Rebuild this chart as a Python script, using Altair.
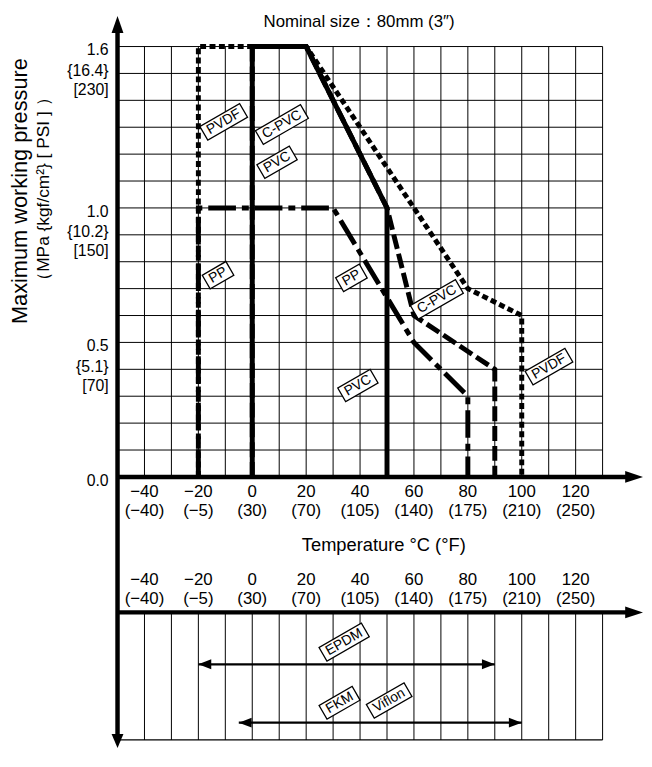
import altair as alt
import pandas as pd

# ---------------- data ----------------
# pressure-temperature curves: temperature (deg C) and pressure (MPa)
pvc_t = [0, 0, 20, 50, 50]
pvc_p = [0.0, 1.6, 1.6, 1.0, 0.0]
cpvc_t = [0, 0, 20, 50, 60, 90, 90]
cpvc_p = [0.0, 1.6, 1.6, 1.0, 0.6, 0.4, 0.0]
pp_t = [-20, -20, 30, 60, 80, 80]
pp_p = [0.0, 1.0, 1.0, 0.5, 0.3, 0.0]
pvdf_t = [-20, -20, 20, 80, 100, 100]
pvdf_p = [0.0, 1.6, 1.6, 0.7, 0.6, 0.0]

# seal material temperature ranges
seal_min = [-20, -5]
seal_max = [90, 100]
seal_row = [1, 2]

# axes
temp_ticks = [-40, -20, 0, 20, 40, 60, 80, 100, 120]
temp_c_labels = ["−40", "−20", "0", "20", "40", "60", "80", "100", "120"]
temp_f_labels = ["(−40)", "(−5)", "(30)", "(70)", "(105)", "(140)", "(175)", "(210)", "(250)"]
grid_t = [-40, -30, -20, -10, 0, 10, 20, 30, 40, 50, 60, 70, 80, 90, 100, 110, 120, 130]
grid_p = [0.1, 0.2, 0.3, 0.4, 0.5, 0.6, 0.7, 0.8, 0.9, 1.0, 1.1, 1.2, 1.3, 1.4, 1.5, 1.6]
p_ticks = [1.6, 1.0, 0.5, 0.0]
p_mpa_labels = ["1.6", "1.0", "0.5", "0.0"]
p_kgf_labels = ["{16.4}", "{10.2}", "{5.1}", ""]
p_psi_labels = ["[230]", "[150]", "[70]", ""]

# boxed curve labels
label_text = ["PVDF", "C-PVC", "PVC", "PP", "PP", "C-PVC", "PVC", "PVDF"]
label_t = [-10.6, 11.0, 9.2, -12.7, 36.8, 68.5, 39.2, 110.1]
label_p = [1.32, 1.31, 1.17, 0.75, 0.74, 0.66, 0.34, 0.41]
seal_label_text = ["EPDM", "FKM", "Viflon"]
seal_label_t = [34.1, 32.4, 50.8]
seal_label_row = [0.62, 1.66, 1.62]

title_text = "Nominal size：80mm (3″)"
x_title_text = "Temperature °C (°F)"
y_title_1 = "Maximum working pressure"
y_title_2 = "（MPa {kgf/cm²} [ PSI ] ）"

# ---------------- layout (page pixels) ----------------
PX_C = 2.725
PX_MPA = 272.0
X0 = 118.75
Y0 = 478.0
TOP = 12.0
BOTTOM = 752.0
T_MIN, T_GRID_MAX, T_MAX = -50, 130, 145
W = (T_MAX - T_MIN) * PX_C
H = BOTTOM - TOP
P_TOP = (Y0 - TOP) / PX_MPA
P_BOT = -(BOTTOM - Y0) / PX_MPA
P_GRID_MAX = 1.6

ROW_PX = 59.0
ROW1_Y = 667.5
R_TOP = 1 - (ROW1_Y - TOP) / ROW_PX
R_BOT = 1 + (BOTTOM - ROW1_Y) / ROW_PX
AXIS2_ROW = 1 - (ROW1_Y - 615) / ROW_PX
FRAME_ROW = 1 + (744 - ROW1_Y) / ROW_PX


def t_at(px):
    return T_MIN + (px - X0) / PX_C


def p_at(py):
    return (Y0 - py) / PX_MPA


FONT = "Liberation Sans"
GRID = "#000"

xs = alt.Scale(domain=[T_MIN, T_MAX], nice=False, zero=False)
ys = alt.Scale(domain=[P_BOT, P_TOP], nice=False, zero=False)
rs = alt.Scale(domain=[R_TOP, R_BOT], nice=False, zero=False, reverse=True)


def X(f):
    return alt.X(f, type="quantitative", scale=xs, axis=None)


def Y(f):
    return alt.Y(f, type="quantitative", scale=ys, axis=None)


def R(f):
    return alt.Y(f, type="quantitative", scale=rs, axis=None)


layers = []

# ---- grids ----
hg = pd.DataFrame({"p": grid_p})
hg["t0"] = T_MIN
hg["t1"] = T_GRID_MAX
layers.append(alt.Chart(hg).mark_rule(color=GRID, strokeWidth=1).encode(
    x=X("t0"), x2=alt.X2("t1"), y=Y("p")))
vg = pd.DataFrame({"t": grid_t})
vg["p0"] = 0.0
vg["p1"] = P_GRID_MAX
layers.append(alt.Chart(vg).mark_rule(color=GRID, strokeWidth=1).encode(
    x=X("t"), y=Y("p0"), y2=alt.Y2("p1")))
bg = pd.DataFrame({"t": grid_t})
bg["r0"] = AXIS2_ROW
bg["r1"] = FRAME_ROW
layers.append(alt.Chart(bg).mark_rule(color=GRID, strokeWidth=1).encode(
    x=X("t"), y=R("r0"), y2=alt.Y2("r1")))
fr = pd.DataFrame({"t0": [T_MIN], "t1": [T_GRID_MAX], "r": [FRAME_ROW]})
layers.append(alt.Chart(fr).mark_rule(color=GRID, strokeWidth=1.2).encode(
    x=X("t0"), x2=alt.X2("t1"), y=R("r")))


# ---- curves ----
def series(t, p, width, dash=None):
    df = pd.DataFrame({"t": t, "p": p, "i": list(range(len(t)))})
    kw = dict(color="black", strokeWidth=width, strokeJoin="miter", strokeCap="butt")
    if dash:
        kw["strokeDash"] = dash
    return alt.Chart(df).mark_line(**kw).encode(x=X("t"), y=Y("p"), order="i:Q")


layers.append(series(pvdf_t, pvdf_p, 5, [6, 3.5]))
layers.append(series(cpvc_t, cpvc_p, 5, [15, 5]))
layers.append(series(pp_t, pp_p, 5, [28, 6, 7, 6]))
layers.append(series(pvc_t, pvc_p, 5))

# ---- axes lines ----
ax = pd.DataFrame({"t": [T_MIN], "p0": [P_TOP - 0.03], "p1": [P_BOT + 0.03]})
layers.append(alt.Chart(ax).mark_rule(color="black", strokeWidth=4.5).encode(
    x=X("t"), y=Y("p0"), y2=alt.Y2("p1")))
xa = pd.DataFrame({"t0": [T_MIN], "t1": [T_MAX - 4], "p": [0.0]})
layers.append(alt.Chart(xa).mark_rule(color="black", strokeWidth=4.5).encode(
    x=X("t0"), x2=alt.X2("t1"), y=Y("p")))
xb = pd.DataFrame({"t0": [T_MIN], "t1": [T_MAX - 4], "r": [AXIS2_ROW]})
layers.append(alt.Chart(xb).mark_rule(color="black", strokeWidth=4.5).encode(
    x=X("t0"), x2=alt.X2("t1"), y=R("r")))

# ---- arrowheads ----
arrow_top = pd.DataFrame({
    "t": [T_MIN, T_MAX, T_MIN],
    "p": [P_TOP, 0.0, P_BOT],
    "path": ["M0,0L-6,17L6,17Z", "M0,0L-18,-6L-18,6Z", "M0,0L-6,-14L6,-14Z"],
})
layers.append(alt.Chart(arrow_top).mark_point(filled=True, color="black", size=4, opacity=1, strokeWidth=0).encode(
    x=X("t"), y=Y("p"), shape=alt.Shape("path:N", scale=None)))
arrow_bot = pd.DataFrame({"t": [T_MAX], "r": [AXIS2_ROW], "path": ["M0,0L-18,-6L-18,6Z"]})
layers.append(alt.Chart(arrow_bot).mark_point(filled=True, color="black", size=4, opacity=1, strokeWidth=0).encode(
    x=X("t"), y=R("r"), shape=alt.Shape("path:N", scale=None)))

# ---- seal ranges ----
seal = pd.DataFrame({"t0": seal_min, "t1": seal_max, "r": seal_row})
layers.append(alt.Chart(seal).mark_rule(color="black", strokeWidth=2.2).encode(
    x=X("t0"), x2=alt.X2("t1"), y=R("r")))
heads = pd.DataFrame({
    "t": seal_min + seal_max,
    "r": seal_row + seal_row,
    "path": ["M0,0L13,-5L13,5Z"] * len(seal_min) + ["M0,0L-13,-5L-13,5Z"] * len(seal_max),
})
layers.append(alt.Chart(heads).mark_point(filled=True, color="black", size=4, opacity=1, strokeWidth=0).encode(
    x=X("t"), y=R("r"), shape=alt.Shape("path:N", scale=None)))

# ---- tick labels ----
tl = pd.DataFrame({"t": temp_ticks, "c": temp_c_labels, "f": temp_f_labels})
tl["p"] = 0.0
tl["r"] = AXIS2_ROW
for col, dy in (("c", 15.5), ("f", 35)):
    layers.append(alt.Chart(tl).mark_text(font=FONT, fontSize=17, color="black", dy=dy, baseline="middle").encode(
        x=X("t"), y=Y("p"), text=f"{col}:N"))
for col, dy in (("c", -33), ("f", -13.5)):
    layers.append(alt.Chart(tl).mark_text(font=FONT, fontSize=17, color="black", dy=dy, baseline="middle").encode(
        x=X("t"), y=R("r"), text=f"{col}:N"))

pl = pd.DataFrame({"p": p_ticks, "a": p_mpa_labels, "b": p_kgf_labels, "c": p_psi_labels})
pl["t"] = T_MIN
for col, dy in (("a", 4), ("b", 24.5), ("c", 44)):
    layers.append(alt.Chart(pl).mark_text(font=FONT, fontSize=16, color="black", dx=-9, dy=dy,
                                          align="right", baseline="middle").encode(
        x=X("t"), y=Y("p"), text=f"{col}:N"))

# ---- boxed labels ----
CW = {"P": .667, "V": .667, "D": .722, "F": .611, "C": .722, "-": .333, "E": .667,
      "M": .833, "K": .667, "i": .222, "f": .278, "l": .222, "o": .556, "n": .556}
LFS = 14


def box_path(s):
    w = (sum(CW.get(ch, .6) for ch in s) * LFS + 9) / 2
    h = 8
    return f"M{-w:.1f},{-h}L{w:.1f},{-h}L{w:.1f},{h}L{-w:.1f},{h}Z"


def boxed(texts, ts, vs, enc):
    df = pd.DataFrame({"s": texts, "t": ts, "v": vs, "path": [box_path(s) for s in texts]})
    box = alt.Chart(df).mark_point(filled=True, fill="white", stroke="black", strokeWidth=1.3,
                                   opacity=1, size=4, angle=330).encode(
        x=X("t"), y=enc("v"), shape=alt.Shape("path:N", scale=None))
    txt = alt.Chart(df).mark_text(font=FONT, fontSize=LFS, color="black", angle=330,
                                  align="center", baseline="middle").encode(
        x=X("t"), y=enc("v"), text="s:N")
    return [box, txt]


layers += boxed(label_text, label_t, label_p, Y)
layers += boxed(seal_label_text, seal_label_t, seal_label_row, R)

# ---- titles ----
tt = pd.DataFrame({"s": [title_text, x_title_text], "t": [t_at(363), t_at(388)], "p": [p_at(18), p_at(547)],
                   "fs": [17, 18.5]})
layers.append(alt.Chart(tt).mark_text(font=FONT, color="black", align="center", baseline="middle").encode(
    x=X("t"), y=Y("p"), text="s:N", size=alt.Size("fs:Q", scale=None)))
yt = pd.DataFrame({"s": [y_title_1, y_title_2], "t": [t_at(20.5), t_at(44)], "p": [p_at(189), p_at(187)],
                   "fs": [22, 17.5]})
layers.append(alt.Chart(yt).mark_text(font=FONT, color="black", align="center", baseline="middle", angle=270).encode(
    x=X("t"), y=Y("p"), text="s:N", size=alt.Size("fs:Q", scale=None)))

chart = alt.layer(*layers).resolve_scale(y="independent").properties(
    width=W, height=H,
    autosize=alt.AutoSizeParams(type="none"),
    padding={"left": X0 - 8, "top": TOP - 8, "right": 1, "bottom": 0},
    background="white",
).configure_view(stroke=None)

chart.save("out.html", embed_options={"renderer": "svg", "actions": False})
